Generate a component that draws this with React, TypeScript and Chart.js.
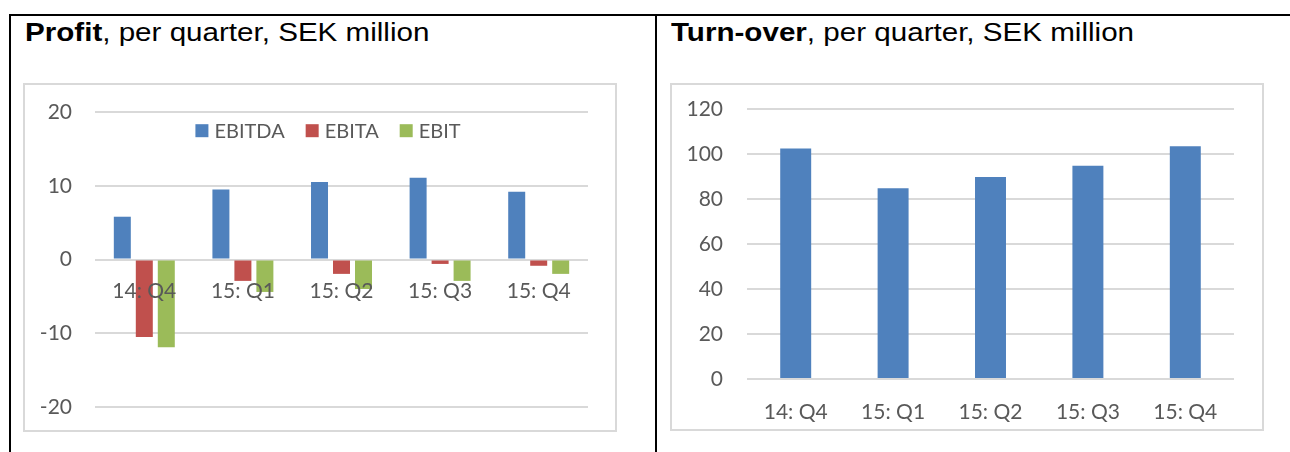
import React, { useEffect, useRef } from "react";
import { Chart, registerables } from "chart.js";

Chart.register(...registerables);

// ---- data ----
const quarters = ["14: Q4", "15: Q1", "15: Q2", "15: Q3", "15: Q4"];
const ebitda = [5.8, 9.5, 10.5, 11.1, 9.2];
const ebita = [-10.5, -2.9, -1.95, -0.6, -0.85];
const ebit = [-11.9, -4.4, -4.0, -2.9, -1.95];
const turnover = [102.5, 84.8, 89.8, 94.8, 103.5];
const profitTicks = [-20, -10, 0, 10, 20];
const turnoverTicks = [0, 20, 40, 60, 80, 100, 120];
const seriesNames = ["EBITDA", "EBITA", "EBIT"];

// ---- styles ----
const BLUE = "#4f81bd";
const RED = "#c0504d";
const GREEN = "#9bbb59";
const GRID = "#d9d9d9";
const TEXT = "#595959";
const CHART_FONT = "Lato";
const TICK_SIZE = 21;

const inlineLegend = {
  id: "inlineLegend",
  afterDatasetsDraw(chart: any, _args: any, opts: any) {
    if (!opts || !opts.enabled) return;
    const ctx = chart.ctx;
    ctx.save();
    ctx.font = `20px ${CHART_FONT}`;
    const box = 13;
    const gapText = 6;
    const gapItem = 21;
    const items = chart.data.datasets.map((d: any) => ({
      label: d.label,
      color: d.backgroundColor,
      w: ctx.measureText(d.label).width,
    }));
    const total =
      items.reduce((s: number, it: any) => s + box + gapText + it.w, 0) +
      gapItem * (items.length - 1);
    let x = chart.width / 2 + opts.shift - total / 2;
    const cy = chart.chartArea.top + opts.offsetY;
    ctx.textBaseline = "middle";
    ctx.textAlign = "left";
    for (const it of items) {
      ctx.fillStyle = it.color;
      ctx.fillRect(x, cy - box / 2, box, box);
      x += box + gapText;
      ctx.fillStyle = TEXT;
      ctx.fillText(it.label, x, cy + 1);
      x += it.w + gapItem;
    }
    ctx.restore();
  },
};

function ProfitChart() {
  const ref = useRef<HTMLCanvasElement>(null);
  useEffect(() => {
    if (!ref.current) return;
    const chart = new Chart(ref.current, {
      type: "bar",
      data: {
        labels: quarters,
        datasets: [
          { label: seriesNames[0], data: ebitda, backgroundColor: BLUE, borderWidth: 0 },
          { label: seriesNames[1], data: ebita, backgroundColor: RED, borderWidth: 0 },
          { label: seriesNames[2], data: ebit, backgroundColor: GREEN, borderWidth: 0 },
        ],
      },
      options: {
        animation: false,
        responsive: false,
        maintainAspectRatio: false,
        layout: { padding: { left: 0, top: 27, right: 27, bottom: 23 } },
        datasets: { bar: { categoryPercentage: 0.669, barPercentage: 0.773 } },
        plugins: {
          legend: { display: false },
          tooltip: { enabled: false },
          inlineLegend: { enabled: true, shift: 8, offsetY: 18.7 },
        } as any,
        scales: {
          x: {
            position: { y: 0 } as any,
            grid: { display: false },
            border: { display: false },
            ticks: {
              z: 1,
              font: { family: CHART_FONT, size: TICK_SIZE },
              color: TEXT,
              padding: 11,
              maxRotation: 0,
              autoSkip: false,
            } as any,
          },
          y: {
            min: -20,
            max: 20,
            afterBuildTicks: (s: any) => {
              s.ticks = profitTicks.map((v) => ({ value: v }));
            },
            afterFit: (s: any) => {
              s.width = 70;
            },
            grid: {
              color: GRID,
              lineWidth: 2,
              drawTicks: true,
              tickLength: 23,
              tickColor: "rgba(0,0,0,0)",
            },
            border: { display: false },
            ticks: {
              font: { family: CHART_FONT, size: TICK_SIZE },
              color: TEXT,
              padding: 0,
            },
          },
        },
      },
      plugins: [inlineLegend],
    });
    return () => chart.destroy();
  }, []);
  return (
    <canvas
      ref={ref}
      width={590}
      height={345}
      style={{ position: "absolute", left: 0, top: 0, width: 590, height: 345 }}
    />
  );
}

function TurnoverChart() {
  const ref = useRef<HTMLCanvasElement>(null);
  useEffect(() => {
    if (!ref.current) return;
    const chart = new Chart(ref.current, {
      type: "bar",
      data: {
        labels: quarters,
        datasets: [
          { label: "Turn-over", data: turnover, backgroundColor: BLUE, borderWidth: 0 },
        ],
      },
      options: {
        animation: false,
        responsive: false,
        maintainAspectRatio: false,
        layout: { padding: { left: 0, top: 24, right: 28, bottom: 0 } },
        datasets: { bar: { categoryPercentage: 0.318, barPercentage: 1 } },
        plugins: {
          legend: { display: false },
          tooltip: { enabled: false },
        },
        scales: {
          x: {
            grid: { display: false },
            border: { display: false },
            afterFit: (s: any) => {
              s.height = 50;
            },
            ticks: {
              font: { family: CHART_FONT, size: TICK_SIZE },
              color: TEXT,
              padding: 13,
              maxRotation: 0,
              autoSkip: false,
            },
          },
          y: {
            min: 0,
            max: 120,
            afterBuildTicks: (s: any) => {
              s.ticks = turnoverTicks.map((v) => ({ value: v }));
            },
            afterFit: (s: any) => {
              s.width = 75;
            },
            grid: {
              color: GRID,
              lineWidth: 2,
              drawTicks: true,
              tickLength: 24,
              tickColor: "rgba(0,0,0,0)",
            },
            border: { display: false },
            ticks: {
              font: { family: CHART_FONT, size: TICK_SIZE },
              color: TEXT,
              padding: 0,
            },
          },
        },
      },
    });
    return () => chart.destroy();
  }, []);
  return (
    <canvas
      ref={ref}
      width={590}
      height={344}
      style={{ position: "absolute", left: 0, top: 0, width: 590, height: 344 }}
    />
  );
}

const titleStyle: React.CSSProperties = {
  position: "absolute",
  top: 19,
  fontFamily: "'Liberation Sans', Arial, sans-serif",
  fontSize: 25.5,
  lineHeight: "26px",
  color: "#000",
  whiteSpace: "nowrap",
  margin: 0,
  transform: "scaleX(1.16)",
  transformOrigin: "0 0",
};

export default function App() {
  return (
    <div
      style={{
        position: "absolute",
        left: 0,
        top: 0,
        width: 1290,
        height: 452,
        overflow: "hidden",
        background: "#fff",
      }}
    >
      {/* table borders */}
      <div style={{ position: "absolute", left: 9, top: 14, width: 1281, height: 2, background: "#000" }} />
      <div style={{ position: "absolute", left: 9, top: 14, width: 2, height: 438, background: "#000" }} />
      <div style={{ position: "absolute", left: 655, top: 14, width: 2, height: 438, background: "#000" }} />

      <div style={{ ...titleStyle, left: 25 }}>
        <b>Profit</b>, per quarter, SEK million
      </div>
      <div style={{ ...titleStyle, left: 671 }}>
        <b>Turn-over</b>, per quarter, SEK million
      </div>

      <div
        style={{
          position: "absolute",
          left: 23,
          top: 83,
          width: 590,
          height: 345,
          border: `2px solid ${GRID}`,
        }}
      >
        <ProfitChart />
      </div>
      <div
        style={{
          position: "absolute",
          left: 670,
          top: 83,
          width: 590,
          height: 344,
          border: `2px solid ${GRID}`,
        }}
      >
        <TurnoverChart />
      </div>
    </div>
  );
}
